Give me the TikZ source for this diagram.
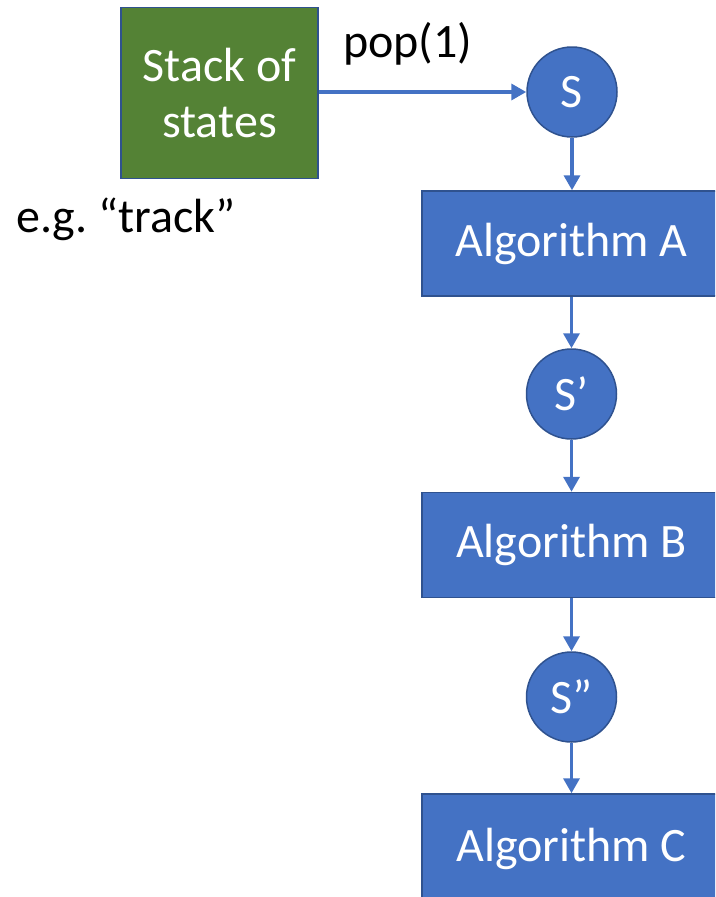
\documentclass[tikz,border=0pt]{standalone}
\usepackage{fontspec}
\setmainfont{Carlito}
\frenchspacing
\usetikzlibrary{arrows.meta}
\definecolor{bluefill}{HTML}{4472C4}
\definecolor{blueedge}{HTML}{2F528F}
\definecolor{greenfill}{HTML}{548235}
\tikzset{
  bigfont/.style={font=\fontsize{48}{56}\selectfont},
  algbox/.style={draw=blueedge, line width=1.5pt, fill=bluefill, text=white, minimum width=299pt, minimum height=105pt, inner sep=0pt, bigfont},
  statecirc/.style={circle, draw=blueedge, line width=1.5pt, fill=bluefill, text=white, minimum size=90pt, inner sep=0pt, bigfont},
  stackbox/.style={draw=blueedge, line width=1.5pt, fill=greenfill, text=white, minimum width=197pt, minimum height=171pt, inner sep=0pt, align=center, bigfont},
  conn/.style={draw=bluefill, line width=3.5pt, -{Triangle[length=15pt,width=16pt]}},
  plain/.style={text=black, inner sep=0pt, bigfont}
}
\begin{document}
\begin{tikzpicture}[x=1pt,y=-1pt]
\useasboundingbox (0,0) rectangle (715,897);
\begin{scope}
\clip (0,0) rectangle (715,897);
\node[stackbox] (stack) at (219.5,93) {Stack of\\states};
\node[statecirc] (s0) at (572,92) {S};
\node[algbox] (a) at (571.5,243.5) {Algorithm A};
\node[statecirc] (s1) at (571.5,394) {S’};
\node[algbox] (b) at (571.5,545) {Algorithm B};
\node[statecirc] (s2) at (571.5,697) {S”};
\node[algbox, minimum height=110pt] (c) at (571.5,849) {Algorithm C};
\node[plain, anchor=base west] (pop) at (343,57) {pop(1)};
\node[plain, anchor=base west] (eg) at (16,232) {e.g. “track”};
\draw[conn] (stack.east |- s0.west) -- (s0.west);
\draw[conn] (s0.south) -- (s0.south |- a.north);
\draw[conn] (a.south -| s1.north) -- (s1.north);
\draw[conn] (s1.south) -- (s1.south |- b.north);
\draw[conn] (b.south -| s2.north) -- (s2.north);
\draw[conn] (s2.south) -- (s2.south |- c.north);
\end{scope}
\end{tikzpicture}
\end{document}
